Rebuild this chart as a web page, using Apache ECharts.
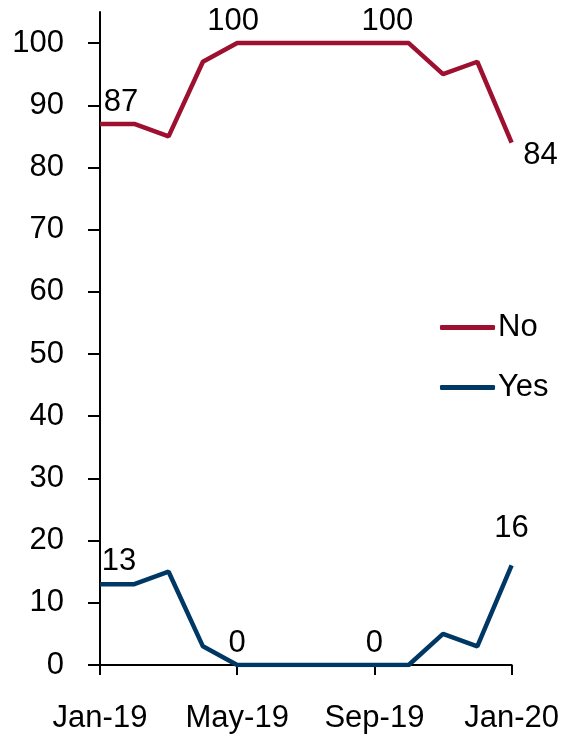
<!DOCTYPE html>
<html><head><meta charset="utf-8">
<script src="https://cdn.jsdelivr.net/npm/echarts@6/dist/echarts.min.js"></script>
<style>html,body{margin:0;padding:0;background:#fff}#c{width:562px;height:735px}</style>
</head><body><div id="c"></div>
<script>
const months = ['Jan-19','Feb-19','Mar-19','Apr-19','May-19','Jun-19','Jul-19','Aug-19','Sep-19','Oct-19','Nov-19','Dec-19','Jan-20'];
const noValues = [87, 87, 85, 97, 100, 100, 100, 100, 100, 100, 95, 97, 84];
const yesValues = [13, 13, 15, 3, 0, 0, 0, 0, 0, 0, 5, 3, 16];
const yTicks = [0,10,20,30,40,50,60,70,80,90,100];

const FONT = 'Liberation Sans, Arial, sans-serif';
const FS = 31;
const RED = '#9E1030', NAVY = '#003865';

function mkData(vals, offsets){
  return vals.map((v,i)=>{
    const o = offsets[i];
    if(!o) return v;
    return {value: v, label: {show: true, position: 'top', offset: o}};
  });
}
const noOffsets = {0:[21,-1], 4:[-4,-1], 8:[13,-1], 12:[29,33]};
const yesOffsets = {0:[19,-2], 4:[0,-1], 8:[0,-1], 12:[0,-17]};

const chart = echarts.init(document.getElementById('c'));
chart.setOption({
  animation: false,
  grid: {left: 100, right: 50, top: 12, bottom: 70},
  legend: {
    orient: 'vertical', left: 435, top: 307, itemGap: 29,
    icon: 'roundRect', itemWidth: 55, itemHeight: 5,
    textStyle: {fontFamily: FONT, fontSize: FS, color: '#000', padding:[0,0,0,-2]},
    data: ['No','Yes']
  },
  xAxis: {
    type: 'category', data: months, boundaryGap: false,
    axisLine: {lineStyle: {color: '#000', width: 2}},
    axisTick: {show: true, interval: 3, length: 10, lineStyle: {color: '#000', width: 2}},
    axisLabel: {interval: 3, margin: 38, fontFamily: FONT, fontSize: FS, color: '#000'},
    splitLine: {show: false}
  },
  yAxis: {
    type: 'value', min: 0, max: 105,
    axisLine: {show: true, lineStyle: {color: '#000', width: 2}},
    axisTick: {show: true, length: 12, customValues: yTicks, lineStyle: {color: '#000', width: 2}},
    axisLabel: {customValues: yTicks, margin: 36, fontFamily: FONT, fontSize: FS, color: '#000'},
    splitLine: {show: false}
  },
  series: [
    {name: 'No', type: 'line', data: mkData(noValues, noOffsets), symbol: 'circle', symbolSize: 0, showSymbol: true,
     lineStyle: {color: RED, width: 4.5}, itemStyle: {color: RED},
     label: {show: false, fontFamily: FONT, fontSize: FS, color: '#000'}},
    {name: 'Yes', type: 'line', data: mkData(yesValues, yesOffsets), symbol: 'circle', symbolSize: 0, showSymbol: true,
     lineStyle: {color: NAVY, width: 4.5}, itemStyle: {color: NAVY},
     label: {show: false, fontFamily: FONT, fontSize: FS, color: '#000'}}
  ]
});
</script></body></html>
